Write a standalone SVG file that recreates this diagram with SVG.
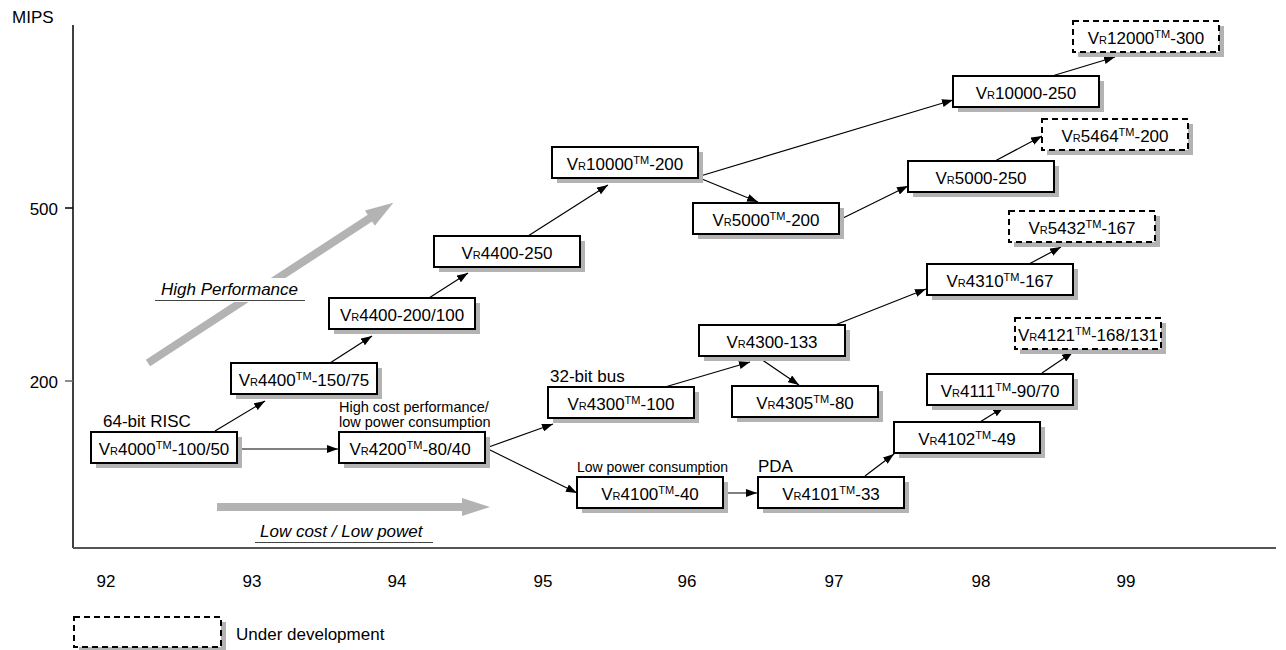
<svg xmlns="http://www.w3.org/2000/svg" width="1286" height="650" viewBox="0 0 1286 650">
<style>
text{font-family:"Liberation Sans",Arial,sans-serif;fill:#000}
.t{font-size:17px}
.nl{font-size:17px;text-anchor:middle}
.s{font-size:11px}
.box{fill:#fff;stroke:#000;stroke-width:2}
.dash{fill:#fff;stroke:#000;stroke-width:2;stroke-dasharray:6 4}
.sh{fill:#b3b3b3}
.con{stroke:#000;stroke-width:1.2;fill:none;marker-end:url(#ah)}
.big{fill:#b3b3b3}
</style>
<defs>
<marker id="ah" markerUnits="userSpaceOnUse" markerWidth="12" markerHeight="8" refX="11" refY="4" orient="auto">
<path d="M0,0 L11,4 L0,8 z" fill="#000"/>
</marker>
</defs>
<rect width="1286" height="650" fill="#fff"/>

<g id="axes">
<line x1="73" y1="25" x2="73" y2="548" stroke="#000" stroke-width="1.5"/>
<line x1="73" y1="548" x2="1276" y2="548" stroke="#555" stroke-width="2"/>
<line x1="65" y1="208" x2="73" y2="208" stroke="#000" stroke-width="1.5"/>
<line x1="65" y1="381" x2="73" y2="381" stroke="#666" stroke-width="1.5"/>
<text class="t" x="12" y="23">MIPS</text>
<text class="t" x="58" y="215" text-anchor="end">500</text>
<text class="t" x="58" y="388" text-anchor="end">200</text>
<g class="t" text-anchor="middle">
<text class="t" x="106" y="587">92</text>
<text class="t" x="252" y="587">93</text>
<text class="t" x="397" y="587">94</text>
<text class="t" x="543" y="587">95</text>
<text class="t" x="687" y="587">96</text>
<text class="t" x="834" y="587">97</text>
<text class="t" x="981" y="587">98</text>
<text class="t" x="1126" y="587">99</text>
</g>
</g>

<g id="trend-arrows">
<polygon class="big" points="0,-4 265,-4 265,-9 293,0 265,9 265,4 0,4" transform="translate(148,363) rotate(-33.14)"/>
<rect x="155" y="278" width="150" height="24" fill="#fff"/>
<text class="t" x="161" y="295" font-style="italic">High Performance</text>
<line x1="155" y1="300.5" x2="305" y2="300.5" stroke="#444" stroke-width="1"/>
<polygon class="big" points="217,503 462,503 462,498 490,507 462,516 462,511 217,511"/>
<text class="t" x="260" y="537" font-style="italic">Low cost / Low powet</text>
<line x1="255" y1="542.5" x2="433" y2="542.5" stroke="#444" stroke-width="1"/>
</g>

<g id="labels">
<text class="t" x="103" y="427">64-bit RISC</text>
<text x="339" y="411.5" font-size="14.5">High cost performance/</text>
<text x="339" y="427" font-size="14.5">low power consumption</text>
<text class="t" x="550" y="382">32-bit bus</text>
<text x="577" y="472" font-size="14">Low power consumption</text>
<text class="t" x="758" y="472">PDA</text>
</g>

<g id="connectors">
<line class="con" x1="215" y1="431" x2="265" y2="401"/>
<line class="con" x1="242" y1="449" x2="338" y2="449"/>
<line class="con" x1="330" y1="363" x2="372" y2="336"/>
<line class="con" x1="429" y1="298" x2="468" y2="273"/>
<line class="con" x1="528" y1="236" x2="608" y2="185"/>
<line class="con" x1="697" y1="177" x2="758" y2="202"/>
<line class="con" x1="697" y1="177" x2="953" y2="100" stroke-width="1.6"/>
<line class="con" x1="1052" y1="76" x2="1115" y2="57"/>
<line class="con" x1="839" y1="220" x2="908" y2="186"/>
<line class="con" x1="995" y1="161" x2="1042" y2="136"/>
<line class="con" x1="486" y1="448" x2="553" y2="424"/>
<line class="con" x1="486" y1="448" x2="577" y2="493"/>
<line class="con" x1="665" y1="387" x2="750" y2="362"/>
<line class="con" x1="758" y1="357" x2="799" y2="385"/>
<line class="con" x1="835" y1="325" x2="926" y2="289"/>
<line class="con" x1="1029" y1="264" x2="1061" y2="247"/>
<line class="con" x1="723" y1="493" x2="757" y2="493"/>
<line class="con" x1="865" y1="476" x2="894" y2="454"/>
<line class="con" x1="980" y1="422" x2="1004" y2="407"/>
<line class="con" x1="1042" y1="373" x2="1073" y2="352"/>
</g>

<g id="n-vr4000">
<rect class="sh" x="96" y="437" width="146" height="31"/>
<rect class="box" x="91" y="432" width="146" height="31"/>
<text class="nl" x="164" y="455">V<tspan class="s">R</tspan>4000<tspan class="s" dy="-6">TM</tspan><tspan dy="6">-100/50</tspan></text>
</g>
<g id="n-vr4400-150">
<rect class="sh" x="236" y="368" width="146" height="31"/>
<rect class="box" x="231" y="363" width="146" height="31"/>
<text class="nl" x="304" y="386">V<tspan class="s">R</tspan>4400<tspan class="s" dy="-6">TM</tspan><tspan dy="6">-150/75</tspan></text>
</g>
<g id="n-vr4400-200">
<rect class="sh" x="334" y="303" width="146" height="31"/>
<rect class="box" x="329" y="298" width="146" height="31"/>
<text class="nl" x="402" y="321">V<tspan class="s">R</tspan>4400-200/100</text>
</g>
<g id="n-vr4400-250">
<rect class="sh" x="439" y="241" width="146" height="31"/>
<rect class="box" x="434" y="236" width="146" height="31"/>
<text class="nl" x="507" y="259">V<tspan class="s">R</tspan>4400-250</text>
</g>
<g id="n-vr10000-200">
<rect class="sh" x="557" y="152" width="146" height="31"/>
<rect class="box" x="552" y="147" width="146" height="31"/>
<text class="nl" x="625" y="170">V<tspan class="s">R</tspan>10000<tspan class="s" dy="-6">TM</tspan><tspan dy="6">-200</tspan></text>
</g>
<g id="n-vr5000-200">
<rect class="sh" x="698" y="208" width="146" height="31"/>
<rect class="box" x="693" y="203" width="146" height="31"/>
<text class="nl" x="766" y="226">V<tspan class="s">R</tspan>5000<tspan class="s" dy="-6">TM</tspan><tspan dy="6">-200</tspan></text>
</g>
<g id="n-vr10000-250">
<rect class="sh" x="958" y="81" width="146" height="31"/>
<rect class="box" x="953" y="76" width="146" height="31"/>
<text class="nl" x="1026" y="99">V<tspan class="s">R</tspan>10000-250</text>
</g>
<g id="n-vr12000">
<rect class="sh" x="1078" y="26" width="146" height="31"/>
<rect class="dash" x="1073" y="21" width="146" height="31"/>
<text class="nl" x="1146" y="44">V<tspan class="s">R</tspan>12000<tspan class="s" dy="-6">TM</tspan><tspan dy="6">-300</tspan></text>
</g>
<g id="n-vr5000-250">
<rect class="sh" x="913" y="166" width="146" height="31"/>
<rect class="box" x="908" y="161" width="146" height="31"/>
<text class="nl" x="981" y="184">V<tspan class="s">R</tspan>5000-250</text>
</g>
<g id="n-vr5464">
<rect class="sh" x="1047" y="124" width="146" height="31"/>
<rect class="dash" x="1042" y="119" width="146" height="31"/>
<text class="nl" x="1115" y="142">V<tspan class="s">R</tspan>5464<tspan class="s" dy="-6">TM</tspan><tspan dy="6">-200</tspan></text>
</g>
<g id="n-vr4310">
<rect class="sh" x="932" y="269" width="146" height="31"/>
<rect class="box" x="927" y="264" width="146" height="31"/>
<text class="nl" x="1000" y="287">V<tspan class="s">R</tspan>4310<tspan class="s" dy="-6">TM</tspan><tspan dy="6">-167</tspan></text>
</g>
<g id="n-vr5432">
<rect class="sh" x="1014" y="216" width="146" height="31"/>
<rect class="dash" x="1009" y="211" width="146" height="31"/>
<text class="nl" x="1082" y="234">V<tspan class="s">R</tspan>5432<tspan class="s" dy="-6">TM</tspan><tspan dy="6">-167</tspan></text>
</g>
<g id="n-vr4300-133">
<rect class="sh" x="704" y="330" width="146" height="31"/>
<rect class="box" x="699" y="325" width="146" height="31"/>
<text class="nl" x="772" y="348">V<tspan class="s">R</tspan>4300-133</text>
</g>
<g id="n-vr4305">
<rect class="sh" x="737" y="391" width="146" height="31"/>
<rect class="box" x="732" y="386" width="146" height="31"/>
<text class="nl" x="805" y="409">V<tspan class="s">R</tspan>4305<tspan class="s" dy="-6">TM</tspan><tspan dy="6">-80</tspan></text>
</g>
<g id="n-vr4300-100">
<rect class="sh" x="553" y="392" width="146" height="31"/>
<rect class="box" x="548" y="387" width="146" height="31"/>
<text class="nl" x="621" y="410">V<tspan class="s">R</tspan>4300<tspan class="s" dy="-6">TM</tspan><tspan dy="6">-100</tspan></text>
</g>
<g id="n-vr4200">
<rect class="sh" x="344" y="437" width="146" height="31"/>
<rect class="box" x="339" y="432" width="146" height="31"/>
<text class="nl" x="410" y="455">V<tspan class="s">R</tspan>4200<tspan class="s" dy="-6">TM</tspan><tspan dy="6">-80/40</tspan></text>
</g>
<g id="n-vr4100">
<rect class="sh" x="582" y="482" width="146" height="31"/>
<rect class="box" x="577" y="477" width="146" height="31"/>
<text class="nl" x="650" y="500">V<tspan class="s">R</tspan>4100<tspan class="s" dy="-6">TM</tspan><tspan dy="6">-40</tspan></text>
</g>
<g id="n-vr4101">
<rect class="sh" x="763" y="482" width="146" height="31"/>
<rect class="box" x="758" y="477" width="146" height="31"/>
<text class="nl" x="831" y="500">V<tspan class="s">R</tspan>4101<tspan class="s" dy="-6">TM</tspan><tspan dy="6">-33</tspan></text>
</g>
<g id="n-vr4102">
<rect class="sh" x="899" y="427" width="146" height="31"/>
<rect class="box" x="894" y="422" width="146" height="31"/>
<text class="nl" x="967" y="445">V<tspan class="s">R</tspan>4102<tspan class="s" dy="-6">TM</tspan><tspan dy="6">-49</tspan></text>
</g>
<g id="n-vr4111">
<rect class="sh" x="932" y="379" width="146" height="31"/>
<rect class="box" x="927" y="374" width="146" height="31"/>
<text class="nl" x="1000" y="397">V<tspan class="s">R</tspan>4111<tspan class="s" dy="-6">TM</tspan><tspan dy="6">-90/70</tspan></text>
</g>
<g id="n-vr4121">
<rect class="sh" x="1020" y="323" width="146" height="31"/>
<rect class="dash" x="1015" y="318" width="146" height="31"/>
<text class="nl" x="1088" y="341">V<tspan class="s">R</tspan>4121<tspan class="s" dy="-6">TM</tspan><tspan dy="6">-168/131</tspan></text>
</g>

<g id="legend">
<rect class="sh" x="79" y="622" width="147" height="31"/>
<rect class="dash" x="74" y="617" width="147" height="30"/>
<text class="t" x="236" y="640">Under development</text>
</g>
</svg>
